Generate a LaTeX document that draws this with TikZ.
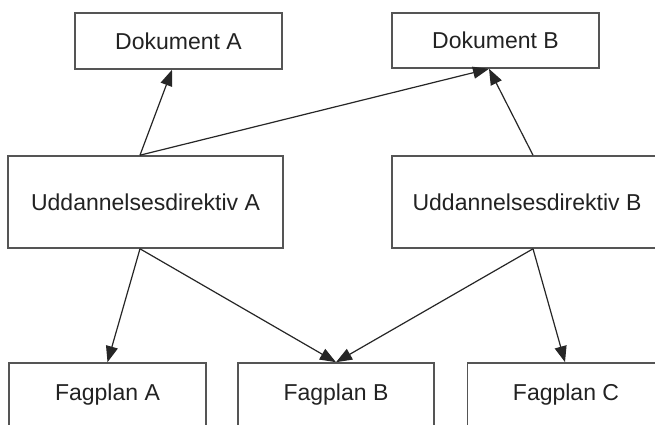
\documentclass[tikz,border=0pt]{standalone}
\usepackage{fontspec}
\setmainfont{Liberation Sans}
\usetikzlibrary{arrows.meta}
\definecolor{boxline}{HTML}{555555}
\definecolor{linkline}{HTML}{262626}
\definecolor{labeltext}{HTML}{222222}
\begin{document}
\begin{tikzpicture}[x=1pt,y=-1pt,
  docbox/.style={draw=boxline,line width=1.6pt,fill=white,inner sep=0pt,
    text=labeltext,font=\fontsize{23}{27}\selectfont},
  link/.style={draw=linkline,line width=1.2pt,
    -{Triangle[length=16pt,width=12pt]}}]
\useasboundingbox (0,0) rectangle (655,425);
\clip (0,0) rectangle (655,425);
\fill[white] (0,0) rectangle (655,425);

% top row: documents
\node[docbox,minimum width=207pt,minimum height=56pt] (doka) at (178.5,41) {Dokument A};
\node[docbox,minimum width=207pt,minimum height=55pt] (dokb) at (495.5,40.5) {Dokument B};

% middle row: directives
\node[docbox,minimum width=275pt,minimum height=92pt] (udda) at (145.5,202) {Uddannelsesdirektiv A};
\node[docbox,minimum width=270pt,minimum height=92pt] (uddb) at (527,202) {Uddannelsesdirektiv B};

% bottom row: subject plans
\node[docbox,minimum width=197pt,minimum height=64pt] (faga) at (107.5,395) {Fagplan A};
\node[docbox,minimum width=196pt,minimum height=64pt] (fagb) at (336,395) {Fagplan B};
\node[docbox,minimum width=197pt,minimum height=64pt] (fagc) at (566,395) {Fagplan C};

% connectors
\draw[link] ([xshift=-5.5pt]udda.north) -- ([xshift=-6.5pt]doka.south);
\draw[link] ([xshift=-5.5pt]udda.north) -- ([xshift=-6.5pt]dokb.south);
\draw[link] ([xshift=6pt]uddb.north) -- ([xshift=-6.5pt]dokb.south);
\draw[link] ([xshift=-5.5pt]udda.south) -- (faga.north);
\draw[link] ([xshift=-5.5pt]udda.south) -- (fagb.north);
\draw[link] ([xshift=6pt]uddb.south) -- (fagb.north);
\draw[link] ([xshift=6pt]uddb.south) -- ([xshift=-1pt]fagc.north);
\end{tikzpicture}
\end{document}
